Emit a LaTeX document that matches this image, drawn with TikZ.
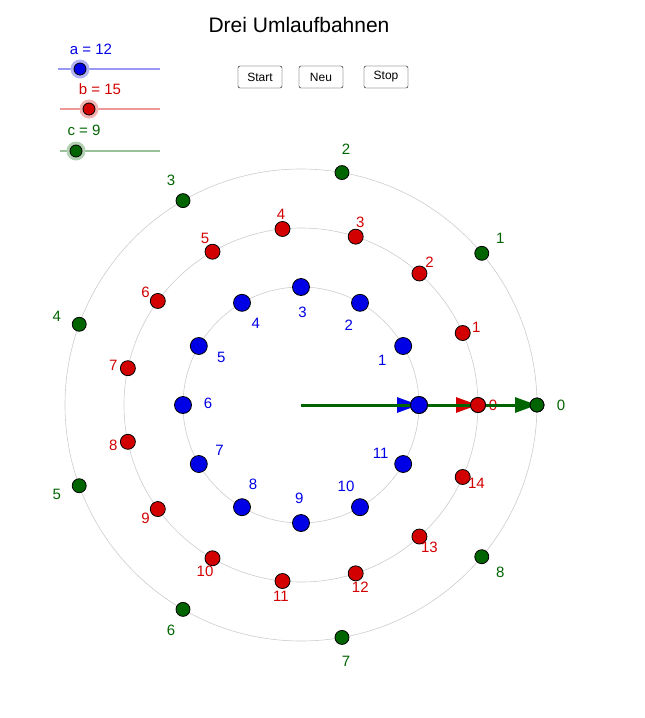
\documentclass[tikz,border=0pt]{standalone}
\usepackage{fontspec}
\setmainfont{Liberation Sans}
\usetikzlibrary{arrows.meta}
\definecolor{cb}{RGB}{0,0,230}
\definecolor{cr}{RGB}{210,0,0}
\definecolor{cg}{RGB}{0,100,0}
\begin{document}
\begin{tikzpicture}[x=1pt,y=-1pt,
  lab/.style={font=\fontsize{15}{17}\selectfont,inner sep=0pt},
  orbit/.style={draw=black!20,line width=0.6pt},
  pt/.style={circle,draw=black,line width=0.8pt,inner sep=0pt,minimum size=#1},
  btn/.style={draw=black,rounded corners=2pt,font=\fontsize{12}{14}\selectfont,minimum height=22pt,minimum width=44pt,inner sep=2pt},
  vec/.style={line width=3pt,-{Triangle[length=22pt,width=15pt]}}]
\useasboundingbox (0,0) rectangle (645,718);
\coordinate (O) at (301,405);
\draw[orbit] (O) circle (118);
\draw[orbit] (O) circle (177);
\draw[orbit] (O) circle (236);
% green
\foreach \k in {0,...,8}{
  \node[pt=14pt,fill=cg] (g\k) at ([shift={({\k*40}:236 and -236)}]O) {};
  \node[lab,text=cg] (gl\k) at ([shift={({\k*40}:260 and -260)}]O) {\k};
}
% red
\foreach \k in {0,...,14}{
  \node[pt=15pt,fill=cr] (r\k) at ([shift={({\k*24}:177 and -177)}]O) {};
  \node[lab,text=cr] (rl\k) at ([shift={({\k*24}:192 and -192)}]O) {\k};
}
% blue
\foreach \k in {0,...,11}{
  \node[pt=17pt,fill=cb] (b\k) at ([shift={({\k*30}:118 and -118)}]O) {};
  \ifnum\k>0 \node[lab,text=cb] (bl\k) at ([shift={({\k*30-1}:93 and -93)}]O) {\k};\fi
}
\draw[vec,cb] (O) -- (b0.center);
\draw[vec,cr] (O) -- (r0.center);
\draw[vec,cg] (O) -- (g0.center);
\node[pt=17pt,fill=cb] at (b0) {};
\node[pt=15pt,fill=cr] at (r0) {};
\node[pt=14pt,fill=cg] at (g0) {};
% title and buttons
\node[font=\fontsize{21}{25}\selectfont] (title) at (299,25) {Drei Umlaufbahnen};
\node[btn] (start) at (260,77) {Start};
\node[btn] (neu) at (321,77) {Neu};
\node[btn] (stop) at (386,77) {Stop};
% sliders
\node[lab,text=cb] (sa) at (91,49) {a = 12};
\draw[cb!40,line width=2pt] (58,69) -- (160,69);
\node[circle,fill=cb!30,minimum size=19pt,inner sep=0pt] (ka) at (80,69) {};
\node[pt=12pt,fill=cb] at (ka) {};
\node[lab,text=cr] (sb) at (100,89) {b = 15};
\draw[cr!40,line width=2pt] (60,109) -- (160,109);
\node[circle,fill=cr!30,minimum size=19pt,inner sep=0pt] (kb) at (89,109) {};
\node[pt=12pt,fill=cr] at (kb) {};
\node[lab,text=cg] (sc) at (84,130) {c = 9};
\draw[cg!40,line width=2pt] (60,151) -- (160,151);
\node[circle,fill=cg!30,minimum size=19pt,inner sep=0pt] (kc) at (76,151) {};
\node[pt=12pt,fill=cg] at (kc) {};
\end{tikzpicture}
\end{document}
